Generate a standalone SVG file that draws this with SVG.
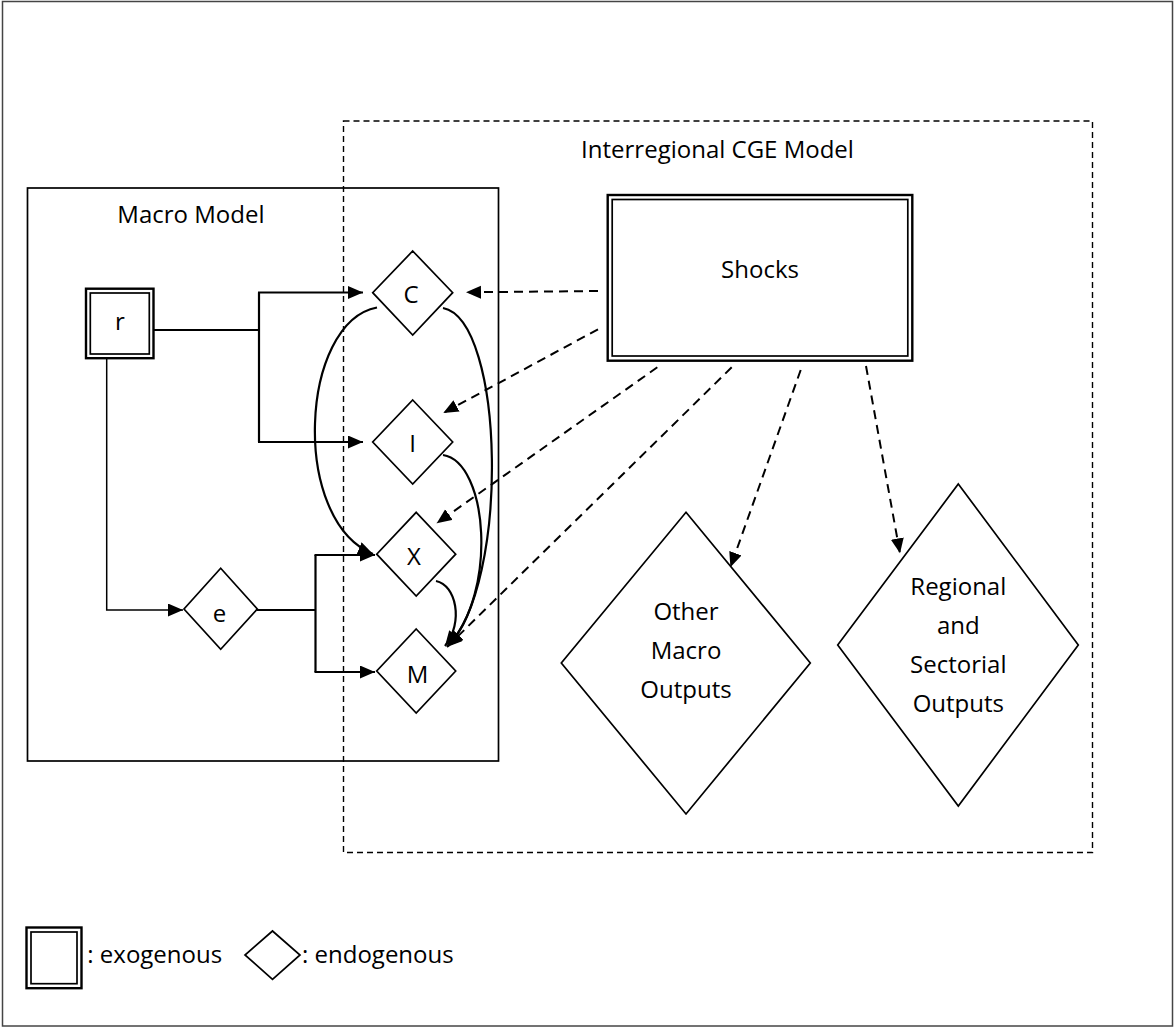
<svg xmlns="http://www.w3.org/2000/svg" width="1175" height="1028" viewBox="0 0 1175 1028">
<style>
  text { font-family: "Open Sans", "Liberation Sans", sans-serif; font-size: 24px; fill: #000; }
  .mid { text-anchor: middle; }
  .dia { fill: #fff; stroke: #000; stroke-width: 1.7; }
  .outer2 { fill: #fff; stroke: #000; stroke-width: 2.4; }
  .inner2 { fill: none; stroke: #000; stroke-width: 1.7; }
  .solid { fill: none; stroke: #000; stroke-width: 2.2; }
  .thin { fill: none; stroke: #000; stroke-width: 1.5; }
  .dash { fill: none; stroke: #000; stroke-width: 2; stroke-dasharray: 9 6; }
</style>
<defs>
  <marker id="ah" markerUnits="userSpaceOnUse" markerWidth="16" markerHeight="14" refX="15" refY="6.5" orient="auto">
    <path d="M0,0 L15,6.5 L0,13 Z" fill="#000" stroke="none"/>
  </marker>
</defs>

<rect id="frame" x="2.5" y="1.5" width="1170" height="1024.5" fill="#fff" stroke="#444" stroke-width="1.5"/>

<g id="macro-model">
  <rect x="27.5" y="188" width="471" height="573" fill="none" stroke="#000" stroke-width="1.7"/>
  <text x="117.3" y="223">Macro Model</text>
</g>

<g id="cge-model">
  <rect x="343.5" y="121" width="749" height="731.5" fill="none" stroke="#000" stroke-width="1.4" stroke-dasharray="6 4"/>
  <text class="mid" x="717.5" y="158">Interregional CGE Model</text>
</g>

<g id="connectors">
  <!-- r to C and I -->
  <line class="solid" x1="153" y1="330" x2="259" y2="330"/>
  <polyline class="solid" points="259,292.5 259,442"/>
  <line class="solid" x1="258" y1="292.5" x2="363" y2="292.5" marker-end="url(#ah)"/>
  <line class="solid" x1="258" y1="442" x2="363" y2="442" marker-end="url(#ah)"/>
  <!-- r to e -->
  <polyline class="thin" points="106.7,359 106.7,610 183,610" marker-end="url(#ah)"/>
  <!-- e to X and M -->
  <line class="solid" x1="257" y1="610" x2="315.5" y2="610"/>
  <polyline class="solid" points="315.5,555 315.5,672"/>
  <line class="solid" x1="314.5" y1="555" x2="375" y2="555" marker-end="url(#ah)"/>
  <line class="solid" x1="314.5" y1="672" x2="375" y2="672" marker-end="url(#ah)"/>
  <!-- curves -->
  <path class="solid" d="M377,307.5 C300,322 290,520 373,554" marker-end="url(#ah)"/>
  <path class="solid" d="M443,308 C505,320 510,585 447,647" marker-end="url(#ah)"/>
  <path class="solid" d="M443,455 C488,462 498,592 448,646" marker-end="url(#ah)"/>
  <path class="solid" d="M436,581 C456,585 464,622 445,646" marker-end="url(#ah)"/>
  <!-- shocks dashed -->
  <line class="dash" x1="598" y1="291" x2="466" y2="292.3" marker-end="url(#ah)"/>
  <line class="dash" x1="598" y1="329.3" x2="443.3" y2="413" marker-end="url(#ah)"/>
  <line class="dash" x1="657.3" y1="367.3" x2="436.7" y2="523.3" marker-end="url(#ah)"/>
  <line class="dash" x1="731.7" y1="367.3" x2="448" y2="646" marker-end="url(#ah)"/>
  <line class="dash" x1="800.7" y1="370" x2="730.4" y2="567.3" marker-end="url(#ah)"/>
  <line class="dash" x1="866" y1="366" x2="900" y2="553.3" marker-end="url(#ah)"/>
</g>

<g id="node-r">
  <rect class="outer2" x="86" y="288.7" width="67.5" height="69.5"/>
  <rect class="inner2" x="90.3" y="293" width="59" height="61"/>
  <text class="mid" x="120" y="330">r</text>
</g>

<g id="node-C">
  <polygon class="dia" points="412.7,251 452.7,292.7 412.7,335 372.7,292.7"/>
  <text class="mid" x="411" y="303">C</text>
</g>

<g id="node-I">
  <polygon class="dia" points="412.7,400 452.7,442 412.7,484 372.7,442"/>
  <text class="mid" x="412.5" y="452">I</text>
</g>

<g id="node-X">
  <polygon class="dia" points="416.2,512.3 455.7,554.2 416.2,596 376.7,554.2"/>
  <text class="mid" x="414" y="565">X</text>
</g>

<g id="node-M">
  <polygon class="dia" points="416.2,629 455.7,671 416.2,713 376.7,671"/>
  <text class="mid" x="417.5" y="682.5">M</text>
</g>

<g id="node-e">
  <polygon class="dia" points="220.7,568.3 257.3,609 220.7,649.3 184,609"/>
  <text class="mid" x="219.5" y="621.5">e</text>
</g>

<g id="node-shocks">
  <rect class="outer2" x="607.7" y="195" width="304.6" height="165.7"/>
  <rect class="inner2" x="612.2" y="199.5" width="295.6" height="156.5"/>
  <text class="mid" x="760" y="278">Shocks</text>
</g>

<g id="node-other">
  <polygon class="dia" points="686,512.3 810.3,663 686,814 561.3,663"/>
  <text class="mid" x="686" y="620">Other</text>
  <text class="mid" x="686" y="658.5">Macro</text>
  <text class="mid" x="686" y="697.5">Outputs</text>
</g>

<g id="node-regional">
  <polygon class="dia" points="958.3,484 1078.3,645 958.3,806 837.7,645"/>
  <text class="mid" x="958.3" y="595">Regional</text>
  <text class="mid" x="958.3" y="634">and</text>
  <text class="mid" x="958.3" y="673.3">Sectorial</text>
  <text class="mid" x="958.3" y="712.3">Outputs</text>
</g>

<g id="legend">
  <rect class="outer2" x="26.5" y="927.5" width="55" height="60.7"/>
  <rect class="inner2" x="31" y="932" width="46" height="51.7"/>
  <text x="87.3" y="962.7">: exogenous</text>
  <polygon class="dia" points="272.5,931 300,955 272.5,979.3 245,955"/>
  <text x="302" y="962.7">: endogenous</text>
</g>
</svg>
